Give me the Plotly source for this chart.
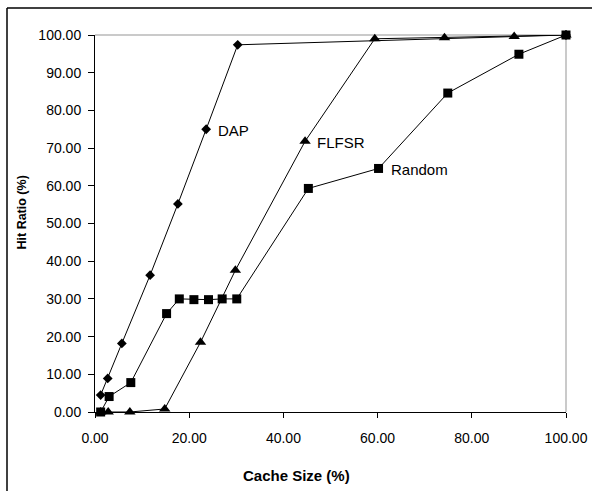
import plotly.graph_objects as go

# Data
dap_x = [1.2, 2.7, 5.7, 11.7, 17.6, 23.6, 30.3, 100.0]
dap_y = [4.5, 8.9, 18.2, 36.3, 55.2, 75.0, 97.4, 100.0]

flfsr_x = [1.2, 2.8, 7.4, 14.8, 22.4, 29.8, 44.6, 59.4, 74.2, 89.0, 100.0]
flfsr_y = [0.0, 0.0, 0.0, 0.8, 18.5, 37.6, 71.8, 99.0, 99.3, 99.6, 100.0]

random_x = [1.2, 3.0, 7.6, 15.2, 17.9, 21.0, 24.1, 27.0, 30.1, 45.3, 60.2, 74.9, 90.0, 100.0]
random_y = [0.0, 4.1, 7.8, 26.1, 30.0, 29.8, 29.8, 30.0, 30.0, 59.3, 64.6, 84.6, 94.9, 100.0]

x_ticks = [0, 20, 40, 60, 80, 100]
y_ticks = [0, 10, 20, 30, 40, 50, 60, 70, 80, 90, 100]

series_labels = [("DAP", 25.6, 74.8), ("FLFSR", 46.8, 71.6), ("Random", 62.4, 64.3)]

FONT = "Liberation Sans, Arial, sans-serif"

fig = go.Figure()
fig.add_trace(go.Scatter(x=dap_x, y=dap_y, mode="lines+markers", name="DAP",
                         line=dict(color="black", width=1),
                         marker=dict(symbol="diamond", size=7.5, color="black"),
                         cliponaxis=False))
fig.add_trace(go.Scatter(x=random_x, y=random_y, mode="lines+markers", name="Random",
                         line=dict(color="black", width=1),
                         marker=dict(symbol="square", size=9, color="black"),
                         cliponaxis=False))
fig.add_trace(go.Scatter(x=flfsr_x, y=flfsr_y, mode="lines+markers", name="FLFSR",
                         line=dict(color="black", width=1),
                         marker=dict(symbol="triangle-up", size=10, color="black"),
                         cliponaxis=False))

L, R, T, B = 95, 26, 35, 79
W, H = 592, 491
pw = W - L - R
ph = H - T - B

def px(xp):
    return (xp - L) / pw

def py(yp):
    return (H - B - yp) / ph

shapes = [
    dict(type="line", xref="paper", yref="paper", x0=0, x1=1, y0=1, y1=1,
         line=dict(color="#b8b8b8", width=1.5), layer="below"),
    dict(type="line", xref="paper", yref="paper", x0=1, x1=1, y0=0, y1=1,
         line=dict(color="#b8b8b8", width=1.5), layer="below"),
    dict(type="line", xref="paper", yref="paper", x0=px(7), x1=px(600), y0=py(8), y1=py(8),
         line=dict(color="black", width=1.5)),
    dict(type="line", xref="paper", yref="paper", x0=px(7), x1=px(7), y0=py(8), y1=py(500),
         line=dict(color="black", width=1.5)),
]

annotations = [
    dict(x=lx, y=ly, xref="x", yref="y", text=t, showarrow=False, xanchor="left",
         yanchor="middle", font=dict(family=FONT, size=15, color="black"))
    for t, lx, ly in series_labels
]
annotations.append(dict(x=px(296), y=py(475), xref="paper", yref="paper",
                        text="<b>Cache Size (%)</b>", showarrow=False,
                        xanchor="center", yanchor="middle",
                        font=dict(family=FONT, size=15, color="black")))
annotations.append(dict(x=px(21.5), y=py(213), xref="paper", yref="paper",
                        text="<b>Hit Ratio (%)</b>", showarrow=False, textangle=-90,
                        xanchor="center", yanchor="middle",
                        font=dict(family=FONT, size=12.5, color="black")))

fig.update_layout(
    width=W, height=H,
    margin=dict(l=L, r=R, t=T, b=B, autoexpand=False),
    paper_bgcolor="white", plot_bgcolor="white",
    showlegend=False,
    font=dict(family=FONT, size=14, color="black"),
    shapes=shapes,
    annotations=annotations,
    xaxis=dict(range=[0, 100], tickvals=x_ticks, tickformat=".2f", automargin=False,
               showgrid=False, zeroline=False, showline=True, linecolor="black",
               linewidth=1, ticks="outside", ticklen=5, tickcolor="black",
               ticklabelstandoff=8, fixedrange=True),
    yaxis=dict(range=[0, 100], tickvals=y_ticks, tickformat=".2f", automargin=False,
               showgrid=False, zeroline=False, showline=True, linecolor="black",
               linewidth=1, ticks="outside", ticklen=6, tickcolor="black",
               ticklabelstandoff=4, fixedrange=True),
)

fig.write_html("out.html", config={"displayModeBar": False},
               post_script="document.body.style.margin='0px';")
